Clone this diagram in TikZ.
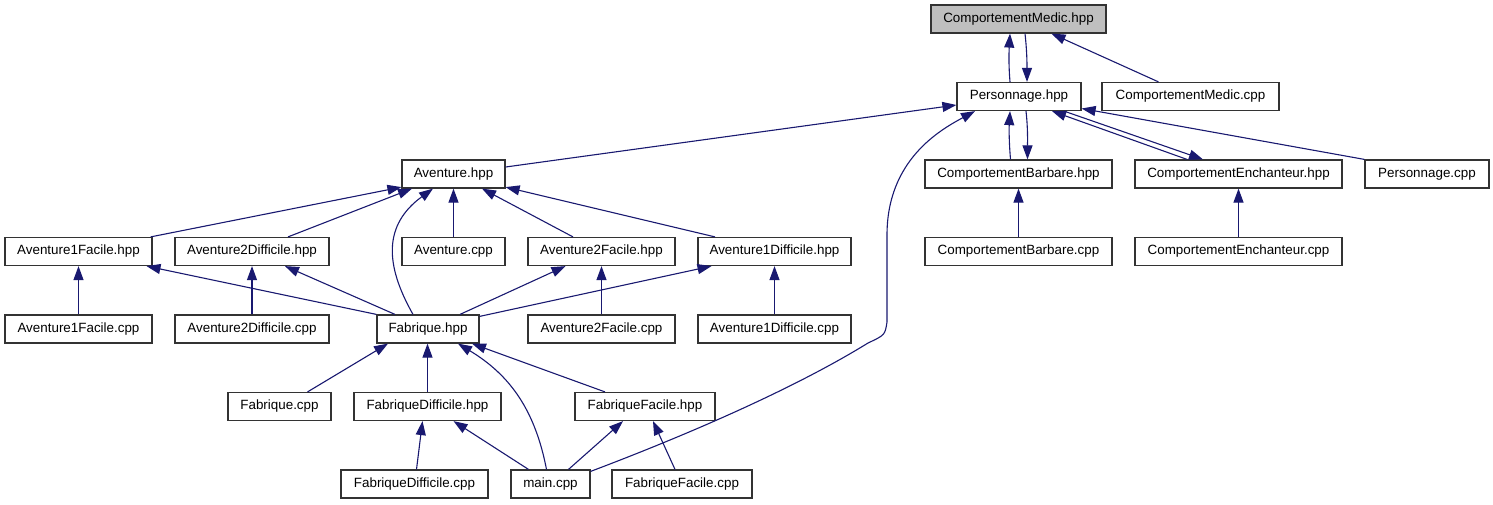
\documentclass[tikz,border=0pt]{standalone}
\usepackage{fontspec}
\setmainfont{Liberation Sans}
\usetikzlibrary{arrows.meta}
\definecolor{edgeblue}{HTML}{191970}
\definecolor{boxborder}{HTML}{333333}
\definecolor{focusfill}{HTML}{BFBFBF}
\begin{document}
\begin{tikzpicture}[x=1pt,y=-1pt,
  filebox/.style={draw=boxborder, line width=1.2pt, fill=white, minimum height=28pt,
    inner sep=0pt, font=\fontsize{13.4}{16}\selectfont, anchor=center},
  focusbox/.style={filebox, fill=focusfill},
  dep/.style={draw=edgeblue, line width=1.1pt, -{Triangle[length=14pt,width=10pt]}}]
\useasboundingbox (0,0) rectangle (1493,504);
% row 1
\node[focusbox, minimum width=175pt] (CMh) at (1018.5,19) {ComportementMedic.hpp};
% row 2
\node[filebox, minimum width=124pt] (Ph) at (1019,96.5) {Personnage.hpp};
\node[filebox, minimum width=177pt] (CMcpp) at (1190.5,96.5) {ComportementMedic.cpp};
% row 3
\node[filebox, minimum width=103pt] (Ah) at (453.5,174) {Aventure.hpp};
\node[filebox, minimum width=187pt] (CBh) at (1018.5,174) {ComportementBarbare.hpp};
\node[filebox, minimum width=207pt] (CEh) at (1238.5,174) {ComportementEnchanteur.hpp};
\node[filebox, minimum width=124pt] (Pcpp) at (1427,174) {Personnage.cpp};
% row 4
\node[filebox, minimum width=147pt] (A1Fh) at (78.5,251.5) {Aventure1Facile.hpp};
\node[filebox, minimum width=154pt] (A2Dh) at (252,251.5) {Aventure2Difficile.hpp};
\node[filebox, minimum width=103pt] (Acpp) at (453.5,251.5) {Aventure.cpp};
\node[filebox, minimum width=147pt] (A2Fh) at (601.5,251.5) {Aventure2Facile.hpp};
\node[filebox, minimum width=153pt] (A1Dh) at (774.5,251.5) {Aventure1Difficile.hpp};
\node[filebox, minimum width=187pt] (CBcpp) at (1018.5,251.5) {ComportementBarbare.cpp};
\node[filebox, minimum width=207pt] (CEcpp) at (1238.5,251.5) {ComportementEnchanteur.cpp};
% row 5
\node[filebox, minimum width=147pt] (A1Fcpp) at (78.5,329) {Aventure1Facile.cpp};
\node[filebox, minimum width=154pt] (A2Dcpp) at (252,329) {Aventure2Difficile.cpp};
\node[filebox, minimum width=102pt] (Fh) at (428,329) {Fabrique.hpp};
\node[filebox, minimum width=147pt] (A2Fcpp) at (601.5,329) {Aventure2Facile.cpp};
\node[filebox, minimum width=153pt] (A1Dcpp) at (774.5,329) {Aventure1Difficile.cpp};
% row 6
\node[filebox, minimum width=103pt] (Fcpp) at (279.5,406.5) {Fabrique.cpp};
\node[filebox, minimum width=147pt] (FDh) at (427.5,406.5) {FabriqueDifficile.hpp};
\node[filebox, minimum width=140pt] (FFh) at (645,406.5) {FabriqueFacile.hpp};
% row 7
\node[filebox, minimum width=147pt] (FDcpp) at (414.5,484) {FabriqueDifficile.cpp};
\node[filebox, minimum width=79pt] (main) at (550.5,484) {main.cpp};
\node[filebox, minimum width=140pt] (FFcpp) at (682,484) {FabriqueFacile.cpp};

% edges around ComportementMedic.hpp and Personnage.hpp
\draw[dep] ([xshift=-9]Ph.north) .. controls +(-1.5,-18) and +(-1,18) .. ([xshift=-8.5]CMh.south);
\draw[dep] ([xshift=6.5]CMh.south) .. controls +(2,18) and +(0,-18) .. ([xshift=8]Ph.north);
\draw[dep] ([xshift=-32]CMcpp.north) -- ([xshift=33]CMh.south);
\draw[dep] ([yshift=7]Ah.east) -- ([yshift=-8.5]Ph.west);
\draw[dep] ([xshift=-8]CBh.north) .. controls +(-1.5,-18) and +(-1,18) .. ([xshift=-9]Ph.south);
\draw[dep] ([xshift=7]Ph.south) .. controls +(2,18) and +(0,-18) .. ([xshift=9]CBh.north);
\draw[dep] ([xshift=-51.5]CEh.north) -- ([xshift=33]Ph.south);
\draw[dep] ([xshift=45]Ph.south) -- ([xshift=-35.5]CEh.north);
\draw[dep] (Pcpp.north west) -- ([yshift=-12]Ph.east);
\draw[dep] ([yshift=-2]main.north east) .. controls (700,430) and (800,385) .. (868,343)
  .. controls (885,335) .. (887,322) -- (887,235)
  .. controls (887,160) and (940,130) .. ([xshift=-44]Ph.south);
\draw[dep] (CBcpp.north) -- (CBh.south);
\draw[dep] (CEcpp.north) -- (CEh.south);

% edges into Aventure.hpp
\draw[dep] ([xshift=-2]A1Fh.north east) -- ([yshift=1.5]Ah.south west);
\draw[dep] ([xshift=36]A2Dh.north) -- ([xshift=-41.5]Ah.south);
\draw[dep] ([xshift=-15]Fh.north) .. controls (385,265) and (383,225) .. ([xshift=-20.5]Ah.south);
\draw[dep] (Acpp.north) -- (Ah.south);
\draw[dep] ([xshift=-28.5]A2Fh.north) -- ([xshift=28.5]Ah.south);
\draw[dep] ([xshift=-59.5]A1Dh.north) -- ([yshift=1.5]Ah.south east);

% edges from Fabrique.hpp up
\draw[dep] (Fh.north west) -- ([xshift=68]A1Fh.south);
\draw[dep] ([xshift=-33]Fh.north) -- ([xshift=33]A2Dh.south);
\draw[dep] ([xshift=32]Fh.north) -- ([xshift=-36]A2Fh.south);
\draw[dep] ([yshift=-2]Fh.north east) -- ([xshift=-63]A1Dh.south);

% .cpp verticals
\draw[dep] (A1Fcpp.north) -- (A1Fh.south);
\draw[dep] (A2Dcpp.north) -- (A2Dh.south);
\draw[dep] (A2Fcpp.north) -- (A2Fh.south);
\draw[dep] (A1Dcpp.north) -- (A1Dh.south);

% edges into Fabrique.hpp
\draw[dep] ([xshift=28]Fcpp.north) -- ([xshift=-40]Fh.south);
\draw[dep] (FDh.north) -- (FDh.north |- Fh.south);
\draw[dep] ([xshift=-4]main.north) .. controls (535,410) and (510,375) .. ([xshift=30]Fh.south);
\draw[dep] ([xshift=-40]FFh.north) -- ([xshift=44]Fh.south);

% bottom row
\draw[dep] ([xshift=2]FDcpp.north) -- ([xshift=-5]FDh.south);
\draw[dep] ([xshift=-22]main.north) -- ([xshift=26]FDh.south);
\draw[dep] ([xshift=18]main.north) -- ([xshift=-22]FFh.south);
\draw[dep] ([xshift=-7]FFcpp.north) -- ([xshift=8]FFh.south);
\end{tikzpicture}
\end{document}
